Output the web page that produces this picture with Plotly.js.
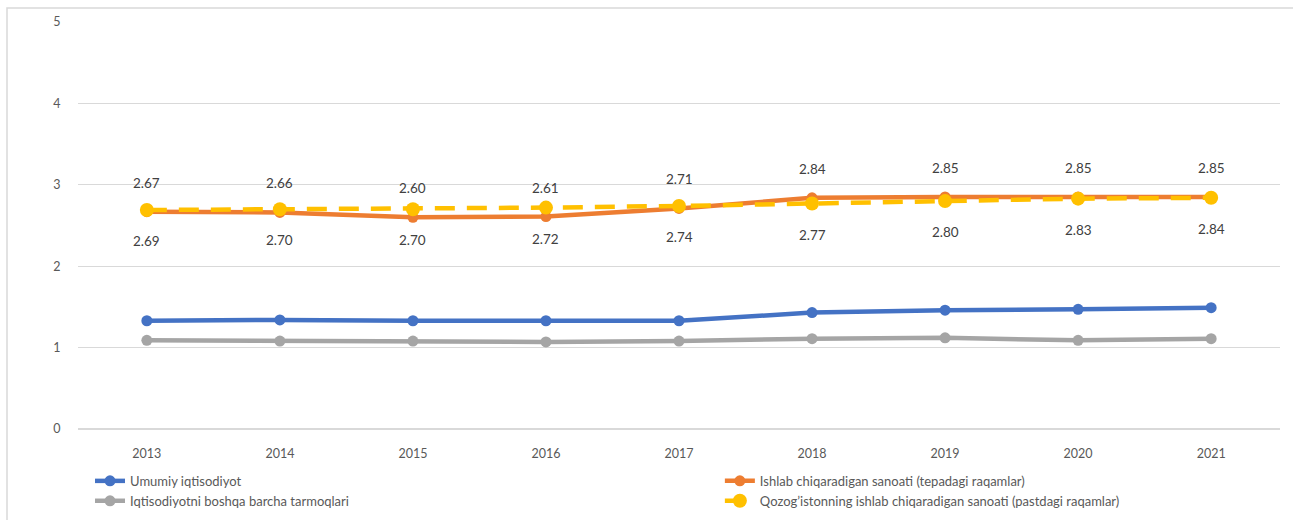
<!DOCTYPE html>
<html>
<head>
<meta charset="utf-8">
<script src="https://cdn.plot.ly/plotly-3.0.1.min.js"></script>
<style>html,body{margin:0;padding:0;background:#fff;}#chart{width:1293px;height:520px;}</style>
</head>
<body>
<div id="chart"></div>
<script>
const years = ['2013','2014','2015','2016','2017','2018','2019','2020','2021'];
const umumiy = [1.33, 1.34, 1.33, 1.33, 1.33, 1.43, 1.46, 1.47, 1.49];
const ishlab = [2.67, 2.66, 2.60, 2.61, 2.71, 2.84, 2.85, 2.85, 2.85];
const boshqa = [1.09, 1.08, 1.08, 1.07, 1.08, 1.11, 1.12, 1.09, 1.11];
const qozog = [2.69, 2.70, 2.70, 2.72, 2.74, 2.77, 2.80, 2.83, 2.84];
const names = [
  'Umumiy iqtisodiyot',
  "Ishlab chiqaradigan sanoati (tepadagi raqamlar)",
  'Iqtisodiyotni boshqa barcha tarmoqlari',
  "Qozog\u2019istonning ishlab chiqaradigan sanoati (pastdagi raqamlar)"
];

const traces = [
  {x: years, y: umumiy, name: names[0], mode: 'lines+markers', legend: 'legend',
   line: {color: '#4472C4', width: 4.5}, marker: {color: '#4472C4', size: 11}},
  {x: years, y: ishlab, name: names[1], mode: 'lines+markers', legend: 'legend2',
   line: {color: '#ED7D31', width: 4.5}, marker: {color: '#ED7D31', size: 11}},
  {x: years, y: boshqa, name: names[2], mode: 'lines+markers', legend: 'legend',
   line: {color: '#A5A5A5', width: 4.5}, marker: {color: '#A5A5A5', size: 11}},
  {x: years, y: qozog, name: names[3], mode: 'lines+markers', legend: 'legend2',
   line: {color: '#FFC000', width: 4.5, dash: '20px,12px'}, marker: {color: '#FFC000', size: 14}}
];

const labelFont = {family: 'Lato, sans-serif', size: 13.5, color: '#404040'};
const annotations = [];
years.forEach((yr, i) => {
  annotations.push({x: i, y: ishlab[i], xref: 'x', yref: 'y', text: ishlab[i].toFixed(2),
    showarrow: false, yshift: 29, font: labelFont});
  annotations.push({x: i, y: qozog[i], xref: 'x', yref: 'y', text: qozog[i].toFixed(2),
    showarrow: false, yshift: -31, font: labelFont});
});

const legFont = {family: 'Lato, sans-serif', size: 13, color: '#595959'};
const layout = {
  width: 1293, height: 520,
  margin: {l: 78, r: 13, t: 22, b: 91},
  paper_bgcolor: '#ffffff', plot_bgcolor: '#ffffff',
  font: {family: 'Lato, sans-serif', size: 12, color: '#595959'},
  showlegend: true,
  legend: {orientation: 'v', x: 0.01, xanchor: 'left', yref: 'container', y: 0.104, yanchor: 'top',
    traceorder: 'normal', font: legFont, bgcolor: 'rgba(0,0,0,0)'},
  legend2: {orientation: 'v', x: 0.534, xanchor: 'left', yref: 'container', y: 0.104, yanchor: 'top',
    traceorder: 'normal', font: legFont, bgcolor: 'rgba(0,0,0,0)'},
  xaxis: {type: 'category', showgrid: false, zeroline: false, showline: false,
    ticks: 'outside', ticklen: 13, tickcolor: 'rgba(0,0,0,0)',
    tickfont: {family: 'Lato, sans-serif', size: 12.5, color: '#595959'}, fixedrange: true},
  yaxis: {range: [0, 5], dtick: 1, tick0: 0, showgrid: true, gridcolor: '#d9d9d9', gridwidth: 1,
    zeroline: true, zerolinecolor: '#d9d9d9', zerolinewidth: 1.5, showline: false,
    ticks: 'outside', ticklen: 14, tickcolor: 'rgba(0,0,0,0)',
    tickfont: {family: 'Lato, sans-serif', size: 12.5, color: '#595959'}, fixedrange: true},
  annotations: annotations,
  shapes: [{type: 'rect', xref: 'paper', yref: 'paper',
    x0: (7 - 78) / 1202, x1: 1.08, y0: -0.4, y1: 1 + (22 - 8) / 407,
    line: {color: '#d9d9d9', width: 1.5}, fillcolor: 'rgba(0,0,0,0)', layer: 'below'}]
};

Plotly.newPlot('chart', traces, layout, {displayModeBar: false, staticPlot: true});
</script>
</body>
</html>
